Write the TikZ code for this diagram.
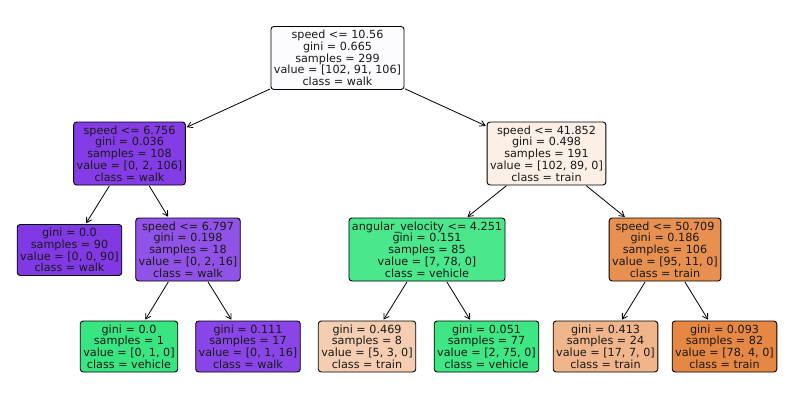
\documentclass[tikz,border=0pt]{standalone}
\usepackage{fontspec}
\setmainfont{DejaVu Sans}
\usetikzlibrary{arrows.meta}
\definecolor{train}{HTML}{E58139}
\definecolor{vehicle}{HTML}{39E581}
\definecolor{walk}{HTML}{8139E5}
\tikzset{
  treenode/.style={draw=black, line width=0.9pt, rounded corners=3pt, align=center,
    inner xsep=3pt, inner ysep=0pt, font=\fontsize{11.2}{11.7}\selectfont, text=black!90},
  inner/.style={treenode, minimum height=63pt},
  leaf/.style={treenode, minimum height=51pt},
  edge/.style={line width=0.8pt, -{Straight Barb[length=5pt,width=6pt]}, shorten >=1pt, shorten <=0.5pt}
}
\begin{document}
\begin{tikzpicture}[x=1pt,y=-1pt]
\useasboundingbox (0,0) rectangle (794,405);
\fill[white] (0,0) rectangle (794,405);
\node[inner, fill=walk!2!white] (root) at (337.5,58) {speed <= 10.56\\gini = 0.665\\samples = 299\\value = [102, 91, 106]\\class = walk};
\node[inner, fill=walk!98!white] (n1) at (129.5,153.5) {speed <= 6.756\\gini = 0.036\\samples = 108\\value = [0, 2, 106]\\class = walk};
\node[inner, fill=train!12.75!white] (n3) at (546.5,153.5) {speed <= 41.852\\gini = 0.498\\samples = 191\\value = [102, 89, 0]\\class = train};
\node[leaf, fill=walk] (l1) at (69.5,250) {gini = 0.0\\samples = 90\\value = [0, 0, 90]\\class = walk};
\node[inner, fill=walk!87.5!white] (n2) at (188,249.5) {speed <= 6.797\\gini = 0.198\\samples = 18\\value = [0, 2, 16]\\class = walk};
\node[inner, fill=vehicle!91!white] (n4) at (427,249.5) {angular\_velocity <= 4.251\\gini = 0.151\\samples = 85\\value = [7, 78, 0]\\class = vehicle};
\node[inner, fill=train!88.4!white] (n5) at (665,249.5) {speed <= 50.709\\gini = 0.186\\samples = 106\\value = [95, 11, 0]\\class = train};
\node[leaf, fill=vehicle] (l2) at (129,346.5) {gini = 0.0\\samples = 1\\value = [0, 1, 0]\\class = vehicle};
\node[leaf, fill=walk!93.75!white] (l3) at (248,346.5) {gini = 0.111\\samples = 17\\value = [0, 1, 16]\\class = walk};
\node[leaf, fill=train!40!white] (l4) at (367,346.5) {gini = 0.469\\samples = 8\\value = [5, 3, 0]\\class = train};
\node[leaf, fill=vehicle!97.3!white] (l5) at (486.5,346.5) {gini = 0.051\\samples = 77\\value = [2, 75, 0]\\class = vehicle};
\node[leaf, fill=train!58.8!white] (l6) at (605.5,346.5) {gini = 0.413\\samples = 24\\value = [17, 7, 0]\\class = train};
\node[leaf, fill=train!94.9!white] (l7) at (724.5,346.5) {gini = 0.093\\samples = 82\\value = [78, 4, 0]\\class = train};
\draw[edge] (root) -- (n1);
\draw[edge] (root) -- (n3);
\draw[edge] (n1) -- (l1);
\draw[edge] (n1) -- (n2);
\draw[edge] (n2) -- (l2);
\draw[edge] (n2) -- (l3);
\draw[edge] (n3) -- (n4);
\draw[edge] (n3) -- (n5);
\draw[edge] (n4) -- (l4);
\draw[edge] (n4) -- (l5);
\draw[edge] (n5) -- (l6);
\draw[edge] (n5) -- (l7);
\end{tikzpicture}
\end{document}
